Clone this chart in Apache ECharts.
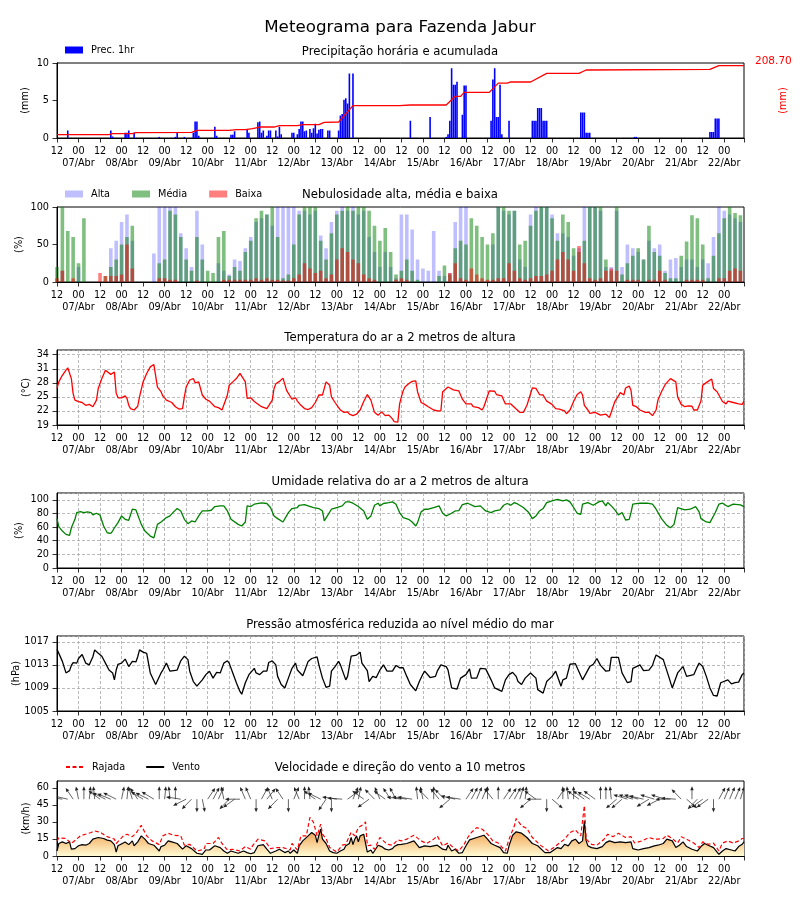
<!DOCTYPE html>
<html><head><meta charset="utf-8">
<script src="https://cdn.jsdelivr.net/npm/echarts@6/dist/echarts.min.js"></script>
<style>html,body{margin:0;padding:0;background:#fff}#c{width:800px;height:900px}</style>
</head><body><div id="c"></div>
<script>
// Hours counted from 06/Abr 12:00 (hour 0) to 22/Abr 11:00 (hour 383)
const hourMax = 383;
const firstDay = 7;
const monthLabel = 'Abr';

// ---- Precipitation (hour, mm) ----
const precipHourly = [[6,1.0],[30,1.0],[31,0.2],[38,0.7],[39,0.7],[40,1.0],[43,0.7],[57,0.15],[66,0.15],[67,0.7],[71,0.15],[76,0.7],[77,2.2],[78,2.2],[79,0.3],[88,1.5],[89,0.3],[97,0.45],[98,0.45],[99,0.9],[106,1.2],[107,0.7],[112,2.1],[113,2.2],[114,0.7],[115,1.0],[117,0.3],[118,1.0],[119,1.0],[122,1.0],[123,0.2],[124,1.5],[125,0.5],[131,0.7],[132,0.7],[134,0.5],[135,1.2],[136,2.2],[137,2.2],[138,0.9],[139,1.0],[141,1.2],[142,0.7],[143,1.3],[144,1.9],[145,0.6],[146,1.1],[147,1.2],[148,1.2],[151,1.0],[152,1.0],[157,1.0],[158,3.0],[159,3.2],[160,5.1],[161,5.3],[162,4.6],[163,8.6],[165,8.6],
[197,2.3],[208,2.8],[217,0.15],[218,0.5],[219,2.3],[220,9.3],[221,7.1],[222,7.1],[223,7.5],[226,3.1],[227,7.0],[228,7.0],[242,2.3],[243,7.8],[244,9.3],[245,2.8],[246,2.8],[247,7.1],[248,0.5],[252,2.3],[265,2.3],[266,2.3],[267,2.3],[268,4.0],[269,4.0],[270,4.0],[271,2.3],[272,2.3],[273,2.3],[292,3.4],[293,3.4],[294,3.4],[295,0.7],[296,0.7],[297,0.7],[322,0.15],[323,0.15],[364,0.8],[365,0.8],[366,0.8],[367,2.6],[368,2.6],[369,2.6]];
const precipAccum = [[0,0],[29,0],[31,3.1],[42,3.1],[44,6.1],[75,7.1],[78,13.2],[96,13.2],[100,15.2],[105,15.2],[106,18.2],[109,18.2],[113,23.2],[121,23.2],[124,27.2],[134,27.2],[137,30.3],[146,30.3],[149,37.4],[157,38.4],[158,40],[165,87.8],[191,87.8],[197,89.8],[217,89.8],[222,116],[225,116],[227,128],[241,128],[246,156],[251,156],[253,159.4],[264,159.4],[273,185.5],[291,185.5],[295,195.7],[364,197.8],[369,208.7],[383,208.7]];
const precipTotalLabel = '208.70';

// ---- Cloud cover, 3-hourly from hour 0 (%) ----
const cloudHigh = [0,15,0,0,20,0,0,0,0,0,45,55,80,90,55,0,0,0,38,100,100,100,100,65,45,20,95,50,0,0,25,15,10,30,28,45,60,80,85,90,75,100,100,100,100,95,95,90,95,62,45,80,95,100,95,100,90,95,60,40,20,40,20,5,
90,90,70,30,18,15,68,15,8,12,80,100,100,0,0,0,0,50,100,95,90,95,30,20,90,100,100,100,90,65,65,60,35,45,100,100,100,95,20,20,95,20,50,45,40,30,55,45,50,15,30,32,20,30,30,20,30,25,60,100,95,90,85,80];
const cloudMid = [20,100,68,60,25,85,0,0,0,8,20,30,50,60,75,0,0,0,0,25,30,95,90,60,30,15,60,30,15,12,60,68,8,20,15,40,55,85,95,90,100,60,5,10,50,90,100,100,100,55,30,65,90,95,100,95,100,100,95,75,55,72,40,10,
15,30,15,3,0,0,0,8,22,10,45,55,50,85,75,60,50,65,100,100,95,95,50,55,75,95,100,100,85,55,90,80,45,40,55,100,100,100,30,15,100,10,25,35,45,30,75,40,35,12,5,5,35,54,89,85,50,5,35,65,85,100,92,89];
const cloudLow = [5,15,0,5,0,0,0,0,12,8,8,8,10,50,18,0,0,0,0,5,5,3,3,0,0,0,2,0,0,0,0,3,3,3,3,3,3,5,3,5,3,3,2,2,5,10,25,18,12,15,5,10,30,45,40,30,25,10,5,3,0,0,0,3,
5,3,0,0,0,0,0,0,0,12,25,5,3,18,10,5,3,3,5,5,25,15,5,3,5,8,8,10,15,30,40,30,15,48,25,5,3,5,15,18,15,0,3,3,3,0,3,3,15,3,0,0,0,3,3,3,3,0,0,5,5,15,18,15];

// ---- Temperature (hour, °C) ----
const temperature = [[0,26.8],[1,28.2],[3,29.6],[5,30.7],[6,31.2],[7,31.1],[8,28.9],[9,25.7],[10,24.3],[12,24.0],[14,23.8],[16,23.2],[18,23.4],[20,22.9],[21,23.0],[22,24.3],[23,26.8],[25,28.9],[27,30.7],[28,30.8],[30,29.8],[31,30.2],[32,30.3],[33,25.8],[34,24.8],[36,24.8],[38,25.2],[39,24.7],[40,23.2],[41,22.5],[42,22.5],[43,22.2],[44,22.5],[45,23.0],[46,25.0],[48,28.2],[50,30.0],[52,31.4],[54,31.9],[55,31.8],[56,27.1],[58,26.1],[59,25.2],[61,24.3],[64,23.8],[66,22.9],[68,22.4],[69,22.0],[70,22.5],[71,25.0],[72,27.1],[74,28.6],[76,28.9],[77,28.0],[79,28.2],[80,28.2],[81,25.4],[83,24.5],[85,24.1],[86,23.8],[88,22.9],[90,22.7],[92,22.2],[93,22.5],[95,25.4],[96,27.5],[98,28.2],[100,28.9],[102,30.0],[103,29.6],[105,28.2],[106,24.7],[108,24.8],[110,24.0],[111,23.6],[114,22.9],[117,22.5],[118,22.8],[120,24.3],[121,26.8],[122,27.8],[124,28.3],[126,29.0],[127,29.0],[128,26.4],[131,24.5],[133,24.8],[134,24.1],[136,23.2],[138,22.5],[140,22.3],[142,22.7],[144,23.8],[146,25.4],[148,25.4],[150,28.2],[151,28.6],[152,27.5],[153,25.0],[155,23.8],[157,22.7],[158,22.2],[160,21.7],[162,21.8],[163,21.3],[165,21.0],[167,21.3],[169,22.2],[171,24.0],[173,25.5],[174,25.4],[175,24.3],[177,21.7],[179,21.1],[181,21.8],[183,21.0],[185,21.1],[187,20.3],[188,19.7],[190,19.6],[191,23.5],
[192,25.0],[193,26.3],[194,27.1],[196,27.8],[198,28.3],[200,28.4],[201,26.1],[203,23.8],[205,23.4],[207,22.9],[210,22.2],[212,22.0],[214,22.0],[215,26.1],[218,27.1],[219,27.2],[221,26.5],[224,26.3],[226,24.5],[228,23.5],[231,23.5],[232,22.9],[235,22.7],[237,22.2],[238,22.9],[241,26.3],[244,26.2],[245,25.5],[248,25.2],[250,23.5],[253,23.5],[256,22.4],[258,21.7],[260,21.7],[262,23.2],[265,26.9],[267,26.8],[269,25.5],[271,25.4],[273,24.1],[276,23.4],[278,22.5],[280,22.4],[283,22.0],[284,21.4],[286,22.2],[288,24.0],[290,25.5],[292,26.1],[293,25.4],[294,23.2],[296,22.2],[297,21.5],[300,21.7],[303,21.1],[306,21.3],[308,20.6],[309,20.8],[311,24.0],[313,25.2],[314,25.9],[316,25.4],[317,26.9],[319,27.3],[320,26.4],[321,23.2],[323,22.9],[325,22.2],[328,21.7],[330,21.7],[332,21.0],[334,22.2],[335,24.3],[337,26.1],[339,27.6],[342,28.9],[343,29.0],[345,28.2],[346,25.0],[348,23.4],[350,22.9],[352,23.1],[354,23.0],[355,22.2],[357,22.2],[359,24.1],[360,27.5],[363,28.3],[365,28.8],[366,26.8],[368,26.1],[371,24.0],[373,23.5],[374,24.1],[377,23.8],[380,23.5],[382,23.4],[383,24.1]];

// ---- Relative humidity (hour, %) ----
const humidity = [[0,72.4],[1,60.6],[3,54.2],[5,49.3],[6,46.8],[7,47.8],[8,59],[9,60.6],[10,71.4],[11,81.3],[13,82.8],[15,81.3],[17,82.3],[19,81.3],[20,77.8],[22,80.3],[24,77.3],[26,61.6],[28,51.7],[30,50.7],[31,54.2],[32,59],[33,57],[34,66.5],[36,76.4],[38,71.4],[40,70],[42,86.2],[44,85.2],[45,82.3],[47,64],[49,54.2],[52,46.8],[54,44.3],[55,46.8],[56,64],[58,67.5],[59,69],[61,73.9],[63,76.4],[65,82.3],[67,87.2],[69,83.7],[71,71.4],[73,65],[75,69],[77,67.5],[79,76.4],[81,83.7],[84,83.7],[86,84.7],[88,90.1],[91,91.1],[93,91.1],[95,83.7],[97,71.4],[98,69],[101,64],[103,61.6],[105,67.5],[106,91.1],[108,90.1],[110,93.6],[111,96],[114,95.5],[117,94.6],[119,88.7],[121,76.4],[123,72.4],[126,67.5],[127,69],[129,81.3],[131,87.2],[132,86.2],[134,88.7],[135,92],[138,93],[140,91.1],[143,88.7],[146,87.2],[148,83.7],[149,69],[150,67.5],[153,86.2],[156,88.7],[159,91.1],[161,97],[163,97],[165,95],[168,90.1],[171,83.7],[173,71.4],[174,70.4],[175,76.4],[177,92],[179,95],[180,91.1],[182,94.6],[185,96],[187,97],[189,93.6],[191,81.3],
[193,73.9],[196,71.4],[198,67.5],[200,61.6],[201,66.5],[203,82.3],[205,86.2],[207,86.2],[210,88.7],[213,91.1],[215,80.3],[217,76.4],[219,78.8],[222,83.7],[224,84.2],[226,93],[229,95],[230,93.6],[233,90.1],[236,91.1],[239,83.7],[242,81.3],[244,83.7],[247,85.2],[249,92],[251,94.6],[253,92],[255,96],[257,93.6],[260,88.7],[263,81.3],[265,72.4],[267,76.4],[269,83.7],[271,87.2],[273,96],[276,98.5],[279,100.5],[282,98.5],[284,100],[286,97],[288,88.7],[290,80.3],[292,78.8],[293,93.6],[294,91.1],[296,96],[297,97],[299,92],[302,97],[304,98.5],[306,91.1],[307,96],[309,91.1],[311,85.2],[313,77.8],[315,81.3],[317,70.4],[319,71.4],[320,81.3],[321,93.6],[325,95],[329,95],[332,93.6],[334,86.2],[337,72.4],[340,62.6],[342,59],[344,64],[346,88.7],[347,90.1],[350,85.2],[353,86.2],[356,90.1],[358,82.3],[359,72.4],[362,67.5],[364,66.5],[367,81.3],[369,93.6],[371,95],[374,90.1],[377,93.6],[381,92.6],[383,90.1]];

// ---- Pressure (hour, hPa) ----
const pressure = [[0,1015.7],[1,1015.4],[3,1013.6],[5,1011.6],[6,1011.4],[7,1012],[8,1012.9],[9,1013.4],[11,1013.3],[12,1014.1],[14,1014.8],[16,1013.3],[18,1013],[19,1013.3],[20,1014.4],[21,1015.6],[23,1015],[25,1014.5],[26,1014.4],[27,1013.3],[29,1012.1],[31,1011.6],[32,1010.4],[33,1012.1],[34,1013.1],[36,1013.3],[38,1014],[40,1012.7],[42,1013.6],[44,1013.5],[45,1014.4],[46,1015.6],[48,1015.2],[50,1015],[52,1011.6],[55,1009.6],[56,1009.7],[58,1011.6],[59,1012.1],[61,1013.3],[63,1011.9],[65,1012],[67,1012.1],[69,1013.7],[71,1014.5],[73,1013.9],[74,1011.9],[76,1010.1],[78,1009.3],[79,1009],[81,1010.4],[83,1011.3],[85,1011.9],[87,1010.7],[89,1011.7],[91,1011.6],[93,1013.3],[95,1013.7],[96,1013.3],[98,1011.6],[100,1009.9],[102,1008.4],[103,1007.9],[105,1009.9],[107,1011.3],[110,1012.4],[111,1011.6],[113,1011.3],[115,1011.9],[117,1011.9],[118,1013.4],[120,1013.7],[122,1013],[123,1011],[125,1009.6],[127,1009],[129,1010.7],[131,1012.4],[133,1013.3],[134,1012.1],[137,1011.1],[138,1011.9],[140,1013.6],[142,1014.1],[145,1014.4],[146,1013],[148,1010.7],[150,1009.1],[152,1009.3],[153,1011.9],[155,1012.7],[157,1013.6],[158,1013],[161,1010.4],[162,1011],[164,1014.5],[167,1014.7],[169,1015.2],[170,1013.3],[173,1012],[174,1010.1],[176,1011],[178,1010.8],[180,1012.1],[182,1013],[184,1011.9],[187,1011.9],[189,1012.9],[191,1012.5],
[193,1012.5],[195,1011],[197,1009.6],[200,1008.5],[202,1010.1],[204,1011.4],[205,1011.9],[206,1012],[208,1010.8],[211,1011],[212,1011.9],[214,1013],[217,1012.7],[218,1012.1],[220,1009],[223,1008.8],[225,1010.7],[228,1011.3],[230,1012.3],[231,1010.7],[234,1010.7],[236,1012.4],[239,1012.3],[242,1010.4],[244,1009],[248,1008.4],[250,1010.4],[252,1011.3],[254,1011.7],[256,1011],[257,1010.1],[259,1009.6],[261,1010.7],[264,1011.6],[267,1010.7],[268,1008.7],[271,1008.1],[273,1010.1],[276,1011],[278,1011.9],[281,1009.3],[282,1010.4],[284,1010.7],[286,1013.1],[289,1013.2],[293,1010.4],[294,1010.7],[297,1012.7],[299,1013.1],[301,1014.1],[303,1012.9],[306,1011.9],[308,1012],[309,1014.3],[313,1014.3],[315,1011.6],[318,1009.9],[320,1010.1],[321,1012.4],[325,1013],[327,1012],[330,1012.1],[332,1012.9],[333,1013.9],[334,1014.7],[338,1013.9],[341,1011],[343,1009],[344,1009],[346,1011.6],[349,1012.7],[351,1011],[355,1011.3],[357,1012.7],[358,1013.3],[360,1012.7],[362,1011],[364,1009],[366,1007.7],[368,1007.6],[370,1009.9],[371,1010.1],[374,1010.4],[376,1009.7],[378,1009.9],[380,1010],[382,1011.3],[383,1011.6]];

// ---- Wind speed and gust (hour, km/h) ----
const windSpeed = [[0,4.4],[1,11],[3,12.4],[5,11],[6,9.5],[7,12.4],[8,6],[10,6.5],[12,9],[14,10],[16,9.5],[18,11],[20,14.8],[23,16.3],[26,15.4],[28,14],[30,13.3],[32,10],[33,3.5],[34,9],[35,9.5],[38,12.4],[40,10],[42,13.3],[43,9],[45,12.4],[47,17.7],[49,14.8],[51,11],[54,9.5],[57,4.4],[58,8.3],[60,9.5],[62,13.3],[64,12.4],[67,11],[70,6],[72,9],[75,6.5],[78,2.4],[81,1.5],[83,5.3],[85,5.3],[88,9],[91,7.4],[93,4.4],[95,2.4],[97,4.4],[98,3],[101,2.4],[104,4.4],[106,3],[108,2],[110,3],[112,9],[115,10],[117,6],[119,2.4],[122,4.4],[124,6],[125,4.4],[127,3],[129,4.4],[130,2.4],[132,5.3],[134,2.4],[135,9],[137,13.3],[140,17.7],[142,20.7],[144,18.3],[145,11.8],[146,18.3],[147,23.6],[148,14.8],[150,11],[152,4.4],[154,3],[156,2.4],[158,4.4],[160,6],[161,9],[163,11],[164,16.3],[165,10],[166,14.8],[167,17.7],[168,12.4],[169,17.7],[171,19.2],[172,20],[173,3.5],[174,4.4],[175,5.3],[176,2.4],[177,4.4],[179,9.5],[181,8.3],[183,6],[185,5.3],[187,6.5],[188,8.3],[190,10],
[192,10.3],[195,11],[199,13.3],[202,7.4],[205,8.9],[208,8.3],[212,9.5],[215,6],[217,5.3],[218,9.5],[220,4.4],[222,5.9],[224,2.4],[226,3],[228,9],[230,14.2],[234,16.3],[238,18.3],[240,14.8],[242,11],[244,9.5],[247,7.4],[249,3],[251,2.4],[252,9],[254,18.3],[256,21.3],[259,20.1],[262,16.3],[265,11],[268,9],[269,9.5],[272,3],[275,3],[277,5.3],[279,7.4],[281,6.5],[283,10.3],[285,8.9],[287,13.3],[289,14.8],[291,11],[293,13.3],[294,31],[295,13.3],[296,8.9],[298,7.4],[301,6.5],[304,8.3],[306,11.8],[308,13.3],[311,11.8],[314,12.4],[317,11.8],[320,12.4],[321,6.5],[324,5.3],[327,6.5],[330,7.4],[333,8.9],[335,9.5],[338,11],[340,14.8],[343,13.3],[345,7.4],[347,9.5],[349,12.4],[351,8.3],[354,5.9],[357,4.4],[359,8.3],[361,11],[363,9.5],[366,7.4],[369,1.5],[371,4.4],[373,6.5],[376,5.3],[378,4.4],[380,8.3],[382,10.3],[383,12.4]];
const windGust = [[0,13],[1,16],[5,15.4],[8,11],[13,17.7],[19,20.7],[21,22],[24,21],[28,17],[32,14.8],[33,11],[37,17.7],[39,19.2],[42,17],[44,20],[47,27],[50,17.7],[53,13.3],[57,10],[59,17.7],[62,20],[65,18.3],[69,17.7],[71,9.5],[74,10.3],[78,4.4],[82,5.9],[83,11],[87,11],[90,16.3],[92,11],[95,5.3],[98,5.9],[102,4.4],[105,8.3],[108,5.9],[109,8.9],[112,14.8],[116,13.3],[119,6.5],[122,7.4],[126,7.4],[130,5.3],[131,11],[134,5.3],[136,17.7],[139,17.7],[141,34],[143,29.6],[145,17.7],[147,28],[148,19.2],[150,15.4],[152,7.4],[156,3.5],[159,9.5],[161,10.3],[164,21],[166,17.7],[168,25],[171,28],[172,30],[173,9],[175,9.5],[177,5.9],[180,16.3],[184,10.3],[187,9.5],[190,14.2],
[192,13.3],[195,14.8],[199,18.3],[203,13.3],[206,11],[210,14.8],[212,17.7],[215,8.9],[218,11.4],[221,7.4],[224,4.4],[227,10.3],[229,16.3],[231,20.7],[234,25],[237,23.6],[240,19.2],[243,13.3],[246,11.4],[250,4.4],[252,14.8],[255,26.6],[256,33],[259,26.6],[262,24.2],[265,16.3],[268,11.8],[270,8.9],[274,4.4],[277,7.4],[280,11.4],[283,14.8],[286,20.7],[289,23],[292,17.7],[294,44.3],[295,14.8],[298,10.3],[301,9.5],[305,14.8],[307,19.2],[310,17],[313,20],[317,16.3],[320,17],[322,11.4],[326,13.3],[330,16.3],[333,14.8],[335,14.8],[338,15.4],[340,18.3],[343,15.4],[346,11.4],[348,17],[351,14.8],[355,11.4],[358,7.4],[360,12.4],[363,10.3],[366,11.4],[369,4.4],[371,11.4],[374,13.3],[377,11.4],[380,13.3],[382,15.4],[383,15.4]];
// Wind direction (degrees, where wind blows from), 3-hourly from hour 0
const windDir = [100,100,105,150,170,180,185,175,130,120,115,120,190,185,165,150,125,120,125,180,185,175,180,100,60,40,0,350,210,205,200,170,40,50,90,160,160,0,205,215,160,40,150,0,200,160,180,175,130,120,30,0,100,95,230,200,190,130,50,140,160,130,150,155,
100,100,100,175,170,140,180,145,140,45,105,100,210,205,200,200,180,145,180,210,210,205,195,185,45,130,90,0,315,210,180,175,180,130,130,125,130,180,180,175,45,45,110,110,110,105,55,110,60,110,90,95,140,315,180,40,50,50,0,205,200,200,200,195];

const FONT = 'DejaVu Sans';
const ARROW_BASE = 50;

function fmtHour(v) {
  if (v % 12 !== 0) return '';
  return v % 24 === 0 ? '12' : '00';
}
function fmtDate(v) {
  if (v % 24 !== 12) return '';
  const day = firstDay + (v - 12) / 24;
  return String(day).padStart(2, '0') + '/' + monthLabel;
}

const gridTops = [63, 207, 350, 493, 636, 781];
const withGrid = [false, false, true, true, true, false];
const lab = { fontFamily: FONT, fontSize: 9.7, color: '#000' };

const grid = gridTops.map(t => ({ left: 57, right: 56, top: t, height: 75, show: true, borderColor: '#000', borderWidth: 1, outerBoundsMode: 'none', containLabel: false }));
const xAxisMain = gridTops.map((t, i) => ({
  type: 'value', gridIndex: i, position: 'bottom', min: 0, max: hourMax, interval: 12,
  axisLine: { show: true, onZero: false, lineStyle: { color: '#000', width: 1 } },
  axisTick: { show: true, length: 4.5, lineStyle: { color: '#000', width: 0.8 } },
  axisLabel: Object.assign({ formatter: fmtHour, margin: 8, showMinLabel: true, showMaxLabel: true, hideOverlap: false }, lab),
  splitLine: { show: withGrid[i], lineStyle: { type: [3, 2], color: '#a8a8a8', width: 0.8 } }
}));
const xAxisDate = gridTops.map((t, i) => ({
  type: 'value', gridIndex: i, position: 'bottom', min: 0, max: hourMax, interval: 12,
  axisLine: { show: false, onZero: false }, axisTick: { show: false }, splitLine: { show: false },
  axisLabel: Object.assign({ formatter: fmtDate, margin: 20.5, showMinLabel: false, showMaxLabel: false, hideOverlap: false }, lab)
}));

function yAx(gi, min, max, interval, name, showMax, gridOn, gap) {
  return {
    type: 'value', gridIndex: gi, min: min, max: max, interval: interval, position: 'left',
    name: name, nameLocation: 'middle', nameGap: gap, nameRotate: 90, nameMoveOverlap: false,
    nameTextStyle: { fontFamily: FONT, fontSize: 9.7, color: '#000' },
    axisLine: { show: true, lineStyle: { color: '#000', width: 1 } },
    axisTick: { show: true, length: 4.5, lineStyle: { color: '#000', width: 0.8 } },
    axisLabel: Object.assign({ margin: 8, showMaxLabel: showMax, showMinLabel: true, hideOverlap: false, formatter: v => String(v) }, lab),
    splitLine: { show: gridOn, lineStyle: { type: [3, 2], color: '#a8a8a8', width: 0.8 } }
  };
}
const yAxis = [
  yAx(0, 0, 10, 5, '(mm)', true, false, 27),
  { type: 'value', gridIndex: 0, min: -10, max: 216.8, position: 'right', name: '(mm)', nameLocation: 'middle', nameGap: 34, nameRotate: 90, nameMoveOverlap: false,
    nameTextStyle: { fontFamily: FONT, fontSize: 9.7, color: '#ff0000' },
    axisLine: { show: true, lineStyle: { color: '#000' } }, axisTick: { show: false }, axisLabel: { show: false }, splitLine: { show: false } },
  yAx(1, 0, 100, 50, '(%)', true, false, 33),
  yAx(2, 19, 35, 3, '(°C)', false, true, 26),
  yAx(3, 0, 110, 20, '(%)', false, true, 33),
  yAx(4, 1005, 1018, 4, '(hPa)', false, true, 36),
  yAx(5, 0, 66, 15, '(km/h)', false, false, 26)
];

const sub = { fontFamily: FONT, fontSize: 11.7, fontWeight: 'normal', color: '#000' };
const title = [
  { text: 'Meteograma para Fazenda Jabur', left: 'center', top: 19, padding: 0, textStyle: { fontFamily: FONT, fontSize: 16.7, fontWeight: 'normal', color: '#000' } },
  { text: 'Precipitação horária e acumulada', left: 'center', top: 46, padding: 0, textStyle: sub },
  { text: 'Nebulosidade alta, média e baixa', left: 'center', top: 189, padding: 0, textStyle: sub },
  { text: 'Temperatura do ar a 2 metros de altura', left: 'center', top: 332, padding: 0, textStyle: sub },
  { text: 'Umidade relativa do ar a 2 metros de altura', left: 'center', top: 476, padding: 0, textStyle: sub },
  { text: 'Pressão atmosférica reduzida ao nível médio do mar', left: 'center', top: 619, padding: 0, textStyle: sub },
  { text: 'Velocidade e direção do vento a 10 metros', left: 'center', top: 762, padding: 0, textStyle: sub }
];
const legTxt = { fontFamily: FONT, fontSize: 9.7, color: '#000', padding: [0, 0, 0, 3] };
const legend = [
  { data: ['Prec. 1hr'], left: 65, top: 45, padding: 0, itemWidth: 18, itemHeight: 7, icon: 'rect', textStyle: legTxt },
  { data: ['Alta', 'Média', 'Baixa'], left: 65, top: 189, padding: 0, itemWidth: 18, itemHeight: 7, itemGap: 22, icon: 'rect', textStyle: legTxt },
  { data: ['Rajada', 'Vento'], left: 65, top: 762, padding: 0, itemWidth: 18, itemHeight: 10, itemGap: 20, textStyle: legTxt,
    itemStyle: { opacity: 0, color: 'rgba(0,0,0,0)', borderWidth: 0 } }
];

function renderArrow(params, api) {
  const p = api.coord([api.value(0), ARROW_BASE]);
  const r = api.value(1) * Math.PI / 180;
  const ex = p[0] - Math.sin(r) * 15, ey = p[1] + Math.cos(r) * 13;
  const a = Math.atan2(ey - p[1], ex - p[0]);
  const hl = 4, hw = 1.7;
  const bx = ex - Math.cos(a) * hl, by = ey - Math.sin(a) * hl;
  const pts = [[ex, ey], [bx - Math.sin(a) * hw, by + Math.cos(a) * hw], [bx + Math.sin(a) * hw, by - Math.cos(a) * hw]];
  return { type: 'group', children: [
    { type: 'line', shape: { x1: p[0], y1: p[1], x2: bx, y2: by }, style: { stroke: '#222', lineWidth: 0.7 } },
    { type: 'polygon', shape: { points: pts }, style: { fill: '#222' } }
  ] };
}

const cloudSeries = (name, arr, color) => ({
  name: name, type: 'bar', xAxisIndex: 1, yAxisIndex: 2, barWidth: 3.6, barGap: '-100%',
  data: arr.map((v, i) => [i * 3, v]), itemStyle: { color: color }, silent: true
});

const option = {
  animation: false,
  backgroundColor: '#fff',
  title: title, legend: legend, grid: grid, xAxis: xAxisMain.concat(xAxisDate), yAxis: yAxis,
  graphic: [{ type: 'text', left: 755, top: 56, style: { text: precipTotalLabel, fill: '#ff0000', font: '10.5px "DejaVu Sans"' } }],
  series: [
    { name: 'Prec. 1hr', type: 'bar', xAxisIndex: 0, yAxisIndex: 0, data: precipHourly, barWidth: 1.6, itemStyle: { color: '#0000ff' }, silent: true },
    { name: 'Acumulada', type: 'line', xAxisIndex: 0, yAxisIndex: 1, data: precipAccum, symbol: 'none', lineStyle: { color: '#ff0000', width: 1.3 } },
    cloudSeries('Alta', cloudHigh, 'rgba(0,0,255,0.25)'),
    cloudSeries('Média', cloudMid, 'rgba(0,128,0,0.5)'),
    cloudSeries('Baixa', cloudLow, 'rgba(255,0,0,0.5)'),
    { name: 'Temperatura', type: 'line', xAxisIndex: 2, yAxisIndex: 3, data: temperature, symbol: 'none', lineStyle: { color: '#ff0000', width: 1.3 } },
    { name: 'Umidade', type: 'line', xAxisIndex: 3, yAxisIndex: 4, data: humidity, symbol: 'none', lineStyle: { color: '#008000', width: 1.3 } },
    { name: 'Pressão', type: 'line', xAxisIndex: 4, yAxisIndex: 5, data: pressure, symbol: 'none', lineStyle: { color: '#000', width: 1.3 } },
    { name: 'Vento', type: 'line', xAxisIndex: 5, yAxisIndex: 6, data: windSpeed, symbol: 'none', lineStyle: { color: '#000', width: 1.2 }, itemStyle: { color: '#000' },
      areaStyle: { opacity: 1, color: { type: 'linear', x: 0, y: 822, x2: 0, y2: 855, global: true, colorStops: [{ offset: 0, color: '#ec8020' }, { offset: 1, color: '#fff8d0' }] } } },
    { name: 'Rajada', type: 'line', xAxisIndex: 5, yAxisIndex: 6, data: windGust, symbol: 'none', lineStyle: { color: '#ff0000', width: 1.2, type: [4, 2.5] }, itemStyle: { color: '#ff0000' } },
    { name: 'Direção', type: 'custom', xAxisIndex: 5, yAxisIndex: 6, clip: true, silent: true, data: windDir.map((d, i) => [i * 3, d]), renderItem: renderArrow }
  ]
};
const chart = echarts.init(document.getElementById('c'), null, { renderer: 'canvas' });
chart.setOption(option);
</script></body></html>
